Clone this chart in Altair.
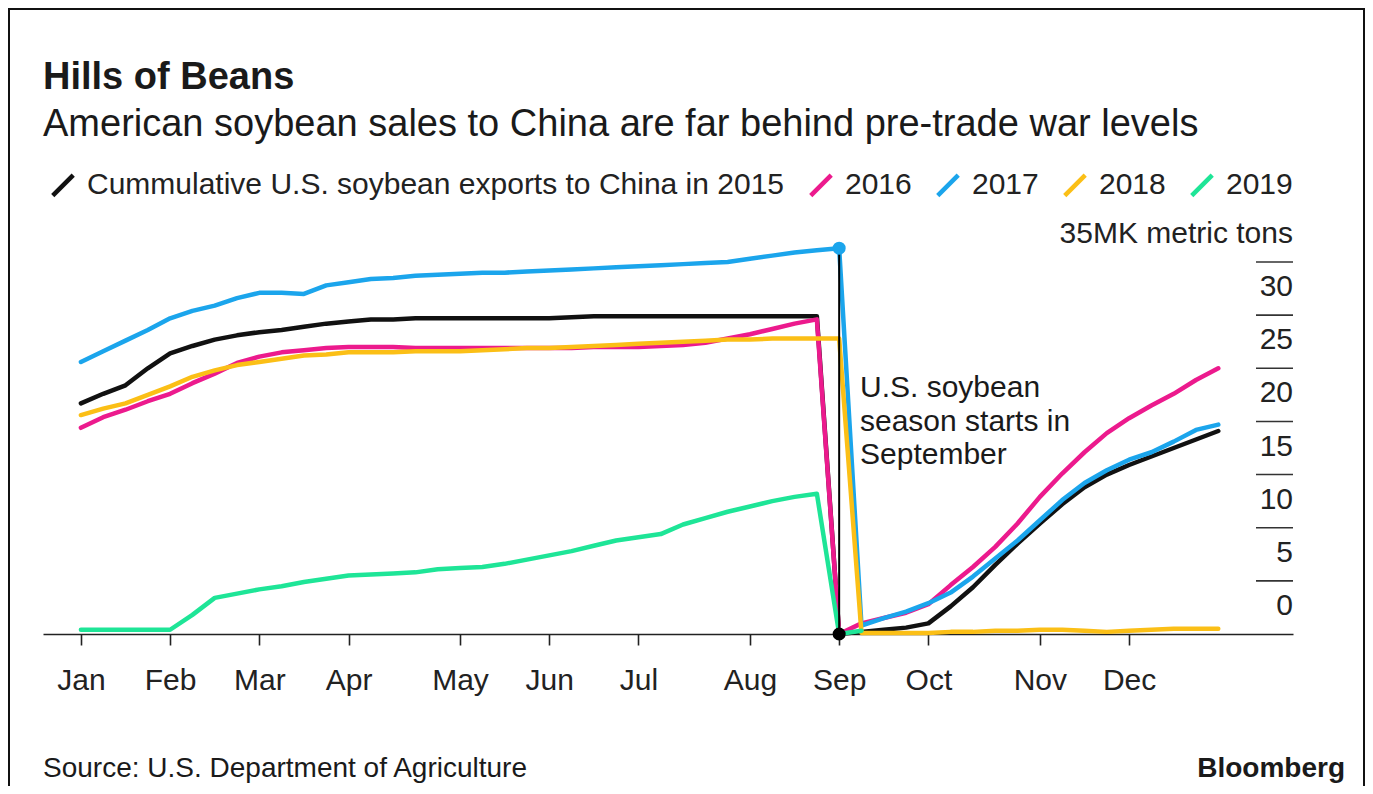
import altair as alt
import pandas as pd

FONT = "Liberation Sans"

# ---- data (weekly cumulative, million metric tons) ----
weeks = list(range(52))
series_names = ["Cummulative U.S. soybean exports to China in 2015", "2016", "2017", "2018", "2019"]
colors = ["#111111", "#ec1a8d", "#1ba5ec", "#fbbf16", "#1ee597"]

v2015 = [21.7, 22.6, 23.4, 25.0, 26.4, 27.1, 27.7, 28.1, 28.4, 28.6, 28.9, 29.2, 29.4, 29.6, 29.6, 29.7,
         29.7, 29.7, 29.7, 29.7, 29.7, 29.7, 29.8, 29.9, 29.9, 29.9, 29.9, 29.9, 29.9, 29.9, 29.9, 29.9,
         29.9, 29.9, 0.0, 0.2, 0.4, 0.6, 1.0, 2.6, 4.4, 6.5, 8.5, 10.4, 12.2, 13.8, 15.0, 15.9,
         16.7, 17.5, 18.3, 19.1]
v2016 = [19.4, 20.4, 21.1, 21.9, 22.6, 23.6, 24.5, 25.5, 26.1, 26.5, 26.7, 26.9, 27.0, 27.0, 27.0, 26.9,
         26.9, 26.9, 26.9, 26.9, 26.9, 26.9, 26.9, 27.0, 27.0, 27.0, 27.1, 27.2, 27.4, 27.8, 28.2, 28.7,
         29.2, 29.6, 0.0, 1.0, 1.5, 2.0, 2.8, 4.6, 6.3, 8.2, 10.4, 12.9, 15.1, 17.1, 18.9, 20.3,
         21.5, 22.6, 23.9, 25.0]
v2017 = [25.6, 26.6, 27.6, 28.6, 29.7, 30.4, 30.9, 31.6, 32.1, 32.1, 32.0, 32.8, 33.1, 33.4, 33.5, 33.7,
         33.8, 33.9, 34.0, 34.0, 34.1, 34.2, 34.3, 34.4, 34.5, 34.6, 34.7, 34.8, 34.9, 35.0, 35.3, 35.6,
         35.9, 36.1, 36.3, 0.8, 1.5, 2.1, 2.9, 3.9, 5.4, 7.1, 8.8, 10.7, 12.6, 14.2, 15.4, 16.4,
         17.1, 18.1, 19.2, 19.7]
v2018 = [20.6, 21.2, 21.7, 22.5, 23.3, 24.2, 24.8, 25.3, 25.6, 25.9, 26.2, 26.3, 26.5, 26.5, 26.5, 26.6,
         26.6, 26.6, 26.7, 26.8, 26.9, 26.9, 27.0, 27.1, 27.2, 27.3, 27.4, 27.5, 27.6, 27.7, 27.7, 27.8,
         27.8, 27.8, 27.8, 0.1, 0.1, 0.1, 0.1, 0.2, 0.2, 0.3, 0.3, 0.4, 0.4, 0.3, 0.2, 0.3,
         0.4, 0.5, 0.5, 0.5]
v2019 = [0.4, 0.4, 0.4, 0.4, 0.4, 1.8, 3.4, 3.8, 4.2, 4.5, 4.9, 5.2, 5.5, 5.6, 5.7, 5.8,
         6.1, 6.2, 6.3, 6.6, 7.0, 7.4, 7.8, 8.3, 8.8, 9.1, 9.4, 10.3, 10.9, 11.5, 12.0, 12.5,
         12.9, 13.2, 0.0, 0.3]

month_weeks = [0, 4, 8, 12, 17, 21, 25, 30, 34, 38, 43, 47]
month_labels = ["Jan", "Feb", "Mar", "Apr", "May", "Jun", "Jul", "Aug", "Sep", "Oct", "Nov", "Dec"]

y_ticks = [0, 5, 10, 15, 20, 25, 30, 35]
y_labels = ["0", "5", "10", "15", "20", "25", "30", "35MK metric tons"]

title = "Hills of Beans"
subtitle = "American soybean sales to China are far behind pre-trade war levels"
note = "U.S. soybean\nseason starts in\nSeptember"
source = "Source: U.S. Department of Agriculture"
brand = "Bloomberg"
season_week = 34

# ---- tables ----
rows = []
for name, vals in zip(series_names, [v2015, v2016, v2017, v2018, v2019]):
    for w, v in zip(weeks, vals):
        rows.append({"series": name, "week": w, "value": v})
df = pd.DataFrame(rows)

label_expr = "[" + ",".join("'%s'" % m for m in month_labels) + "][indexof([" + \
    ",".join(str(w) for w in month_weeks) + "], datum.value)]"

xscale = alt.Scale(domain=[-1.7, 54.35], nice=False, zero=False)
yscale = alt.Scale(domain=[0, 35], nice=False, zero=True)
xaxis = alt.Axis(values=month_weeks, labelExpr=label_expr, title=None, grid=False,
                 domainColor="#222", domainWidth=1.6, tickColor="#222", tickWidth=1.6,
                 tickSize=11, labelFontSize=30, labelFont=FONT, labelColor="#222",
                 labelPadding=20, labelFlush=False, labelOverlap=False)
X = alt.X("week:Q", scale=xscale, axis=xaxis)

lines = alt.Chart(df).mark_line(strokeWidth=4.5, strokeCap="round", strokeJoin="round").encode(
    x=X,
    y=alt.Y("value:Q", scale=yscale, axis=None),
    color=alt.Color("series:N", sort=series_names,
                    scale=alt.Scale(domain=series_names, range=colors),
                    legend=alt.Legend(title=None, orient="none", legendX=5, legendY=-92,
                                      direction="horizontal", symbolType="M-1,1L1,-1",
                                      symbolSize=420, symbolStrokeWidth=4.5,
                                      labelFontSize=30, labelFont=FONT, labelColor="#222",
                                      labelOffset=9, columnPadding=16, padding=0,
                                      labelLimit=1000)),
)

sep_df = pd.DataFrame({"week": [season_week], "top": [v2017[season_week]], "bottom": [0.0]})
rule = alt.Chart(sep_df).mark_rule(color="#000", strokeWidth=2).encode(
    x=X, y=alt.Y("top:Q", scale=yscale, axis=None), y2="bottom:Q")
dot_top = alt.Chart(sep_df).mark_circle(size=170, opacity=1, color=colors[2]).encode(
    x=X, y=alt.Y("top:Q", scale=yscale, axis=None))
dot_bottom = alt.Chart(sep_df).mark_circle(size=170, opacity=1, color="#000").encode(
    x=X, y=alt.Y("bottom:Q", scale=yscale, axis=None))

tick_df = pd.DataFrame({"tick": y_ticks, "label": y_labels})
yrules = alt.Chart(tick_df[tick_df.tick > 0]).mark_rule(color="#333", strokeWidth=1.6).encode(
    y=alt.Y("tick:Q", scale=yscale, axis=None), x=alt.value(1213), x2=alt.value(1250))
ylabels = alt.Chart(tick_df).mark_text(align="right", baseline="alphabetic", dy=-19,
                                       fontSize=30, font=FONT, color="#222").encode(
    y=alt.Y("tick:Q", scale=yscale, axis=None), x=alt.value(1250), text="label:N")


def text_layer(txt, x, y, size, weight="normal", align="left", baseline="alphabetic", **kw):
    return alt.Chart(pd.DataFrame({"t": [txt]})).mark_text(
        align=align, baseline=baseline, fontSize=size, font=FONT, fontWeight=weight,
        color="#1a1a1a", **kw).encode(x=alt.value(x), y=alt.value(y), text="t:N")


annot = text_layer(note, 817, 111, 30, baseline="top", lineBreak="\n", lineHeight=33.5)
t_title = text_layer(title, 0, -173, 38, weight="bold")
t_sub = text_layer(subtitle, 0, -126, 38)
t_src = text_layer(source, 0, 515, 28)
t_brand = text_layer(brand, 1302, 515, 28, weight="bold", align="right")

frame = alt.Chart(pd.DataFrame({"f": [0]})).mark_rect(fill=None, stroke="#111", strokeWidth=2).encode(
    x=alt.value(-34), x2=alt.value(1321), y=alt.value(-253), y2=alt.value(600))

chart = alt.layer(
    frame, lines, rule, dot_top, dot_bottom, yrules, ylabels, annot, t_title, t_sub, t_src, t_brand
).properties(
    width=1250, height=372,
    padding={"left": 35, "top": 254, "right": 72, "bottom": 152},
    autosize=alt.AutoSizeParams(type="none"),
    background="white",
).configure_view(stroke=None)

chart.save("out.html", embed_options={"renderer": "svg", "actions": False})
